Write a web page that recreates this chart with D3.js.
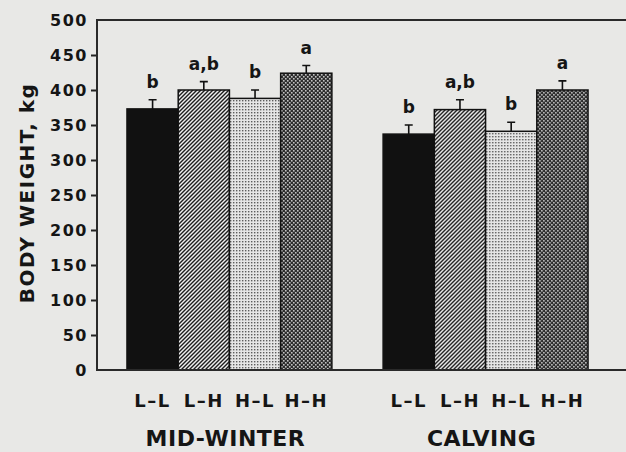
<!DOCTYPE html>
<html>
<head>
<meta charset="utf-8">
<script src="https://cdn.jsdelivr.net/npm/d3@7"></script>
<style>
  body { margin: 0; background: #e8e8e6; }
  svg { display: block; }
  text { font-family: 'DejaVu Sans', sans-serif; font-weight: bold; fill: #151515; }
</style>
</head>
<body>
<svg id="chart" width="626" height="452"></svg>
<script>
// data
const groups = ['MID-WINTER', 'CALVING']
const treatments = ['L–L', 'L–H', 'H–L', 'H–H']
const winterWeight = [373, 400, 388, 424]
const winterSE = [13, 12, 12, 11]
const calvingWeight = [337, 372, 341, 400]
const calvingSE = [13, 14, 13, 13]
const winterLetters = ['b', 'a,b', 'b', 'a']
const calvingLetters = ['b', 'a,b', 'b', 'a']
const yTicks = [0, 50, 100, 150, 200, 250, 300, 350, 400, 450, 500]

const width = 626
const height = 452
const plotLeft = 97, plotTop = 20, plotBottom = 370

const svg = d3.select('#chart')
const defs = svg.append('defs')

// fill patterns
const diag = defs.append('pattern').attr('id', 'diag')
  .attr('patternUnits', 'userSpaceOnUse').attr('width', 4).attr('height', 4)
diag.append('rect').attr('width', 4).attr('height', 4).attr('fill', '#f2f2f2')
diag.append('path').attr('d', 'M-1,1 l2,-2 M0,4 l4,-4 M3,5 l2,-2')
  .attr('stroke', '#1a1a1a').attr('stroke-width', 1.4)

const light = defs.append('pattern').attr('id', 'light')
  .attr('patternUnits', 'userSpaceOnUse').attr('width', 3).attr('height', 3)
light.append('rect').attr('width', 3).attr('height', 3).attr('fill', '#e6e6e6')
light.append('rect').attr('x', 1).attr('y', 1).attr('width', 1.4).attr('height', 1.4).attr('fill', '#5a5a5a')

const dark = defs.append('pattern').attr('id', 'dark')
  .attr('patternUnits', 'userSpaceOnUse').attr('width', 4).attr('height', 4)
dark.append('rect').attr('width', 4).attr('height', 4).attr('fill', '#2c2c2c')
dark.append('rect').attr('x', 0).attr('y', 0).attr('width', 1.6).attr('height', 1.6).attr('fill', '#c4c4c4')
dark.append('rect').attr('x', 2).attr('y', 2).attr('width', 1.6).attr('height', 1.6).attr('fill', '#c4c4c4')

const fills = ['#111', 'url(#diag)', 'url(#light)', 'url(#dark)']

// scales
const y = d3.scaleLinear().domain([0, 500]).range([plotBottom, plotTop])
const x0 = d3.scaleBand().domain(groups).range([plotLeft, 618])
  .paddingInner(0.2).paddingOuter(0.117)
const x1 = d3.scaleBand().domain(treatments).range([0, x0.bandwidth()]).padding(0)

const rows = [
  { group: groups[0], values: winterWeight, se: winterSE, letters: winterLetters },
  { group: groups[1], values: calvingWeight, se: calvingSE, letters: calvingLetters }
]

// y axis
const yAxis = svg.append('g').attr('transform', `translate(${plotLeft},0)`)
  .call(d3.axisLeft(y).tickValues(yTicks).tickSize(6).tickPadding(3).tickFormat(d3.format('d')))
yAxis.select('.domain').remove()
yAxis.selectAll('.tick line').attr('stroke', '#222').attr('stroke-width', 2)
  .filter(d => d === 0 || d === 500).remove()
yAxis.selectAll('.tick text')
  .attr('font-size', 16).attr('letter-spacing', 1.5)
  .attr('font-family', "'DejaVu Sans', sans-serif").attr('font-weight', 'bold')
  .attr('fill', '#151515')

// bars
const groupG = svg.selectAll('.group').data(rows).enter().append('g')
  .attr('class', 'group')
  .attr('transform', d => `translate(${x0(d.group)},0)`)

groupG.each(function (row) {
  const g = d3.select(this)
  const items = treatments.map((t, i) => ({ t, i, v: row.values[i], se: row.se[i], letter: row.letters[i] }))

  g.selectAll('rect.bar').data(items).enter().append('rect')
    .attr('class', 'bar')
    .attr('x', d => x1(d.t))
    .attr('y', d => y(d.v))
    .attr('width', x1.bandwidth())
    .attr('height', d => y(0) - y(d.v))
    .attr('fill', d => fills[d.i])
    .attr('stroke', '#111').attr('stroke-width', 1.5)

  // error bars
  g.selectAll('path.err').data(items).enter().append('path')
    .attr('class', 'err')
    .attr('d', d => {
      const cx = x1(d.t) + x1.bandwidth() / 2
      const yt = y(d.v + d.se)
      return `M${cx},${y(d.v)}V${yt}M${cx - 4},${yt}H${cx + 4}`
    })
    .attr('fill', 'none').attr('stroke', '#111').attr('stroke-width', 1.6)

  // significance letters
  g.selectAll('text.sig').data(items).enter().append('text')
    .attr('class', 'sig')
    .attr('x', d => x1(d.t) + x1.bandwidth() / 2)
    .attr('y', d => y(d.v + d.se) - 12)
    .attr('text-anchor', 'middle')
    .attr('font-size', 17)
    .text(d => d.letter)

  // treatment labels
  g.selectAll('text.cat').data(items).enter().append('text')
    .attr('class', 'cat')
    .attr('x', d => x1(d.t) + x1.bandwidth() / 2)
    .attr('y', 407)
    .attr('text-anchor', 'middle')
    .attr('font-size', 18).attr('letter-spacing', 1.5)
    .text(d => d.t)

  // group label
  g.append('text')
    .attr('x', x0.bandwidth() / 2 - 4)
    .attr('y', 446)
    .attr('text-anchor', 'middle')
    .attr('font-size', 22).attr('letter-spacing', 0.5)
    .text(row.group)
})

// frame
const frame = svg.append('g').attr('stroke', '#2a2a2a').attr('stroke-width', 2).attr('fill', 'none')
frame.append('path').attr('d', `M${width},${plotTop}H${plotLeft}V${plotBottom}H${width}`)

// y title
svg.append('text')
  .attr('transform', `translate(34,193) rotate(-90)`)
  .attr('text-anchor', 'middle')
  .attr('font-size', 20).attr('letter-spacing', 1.5)
  .text('BODY WEIGHT, kg')
</script>
</body>
</html>
